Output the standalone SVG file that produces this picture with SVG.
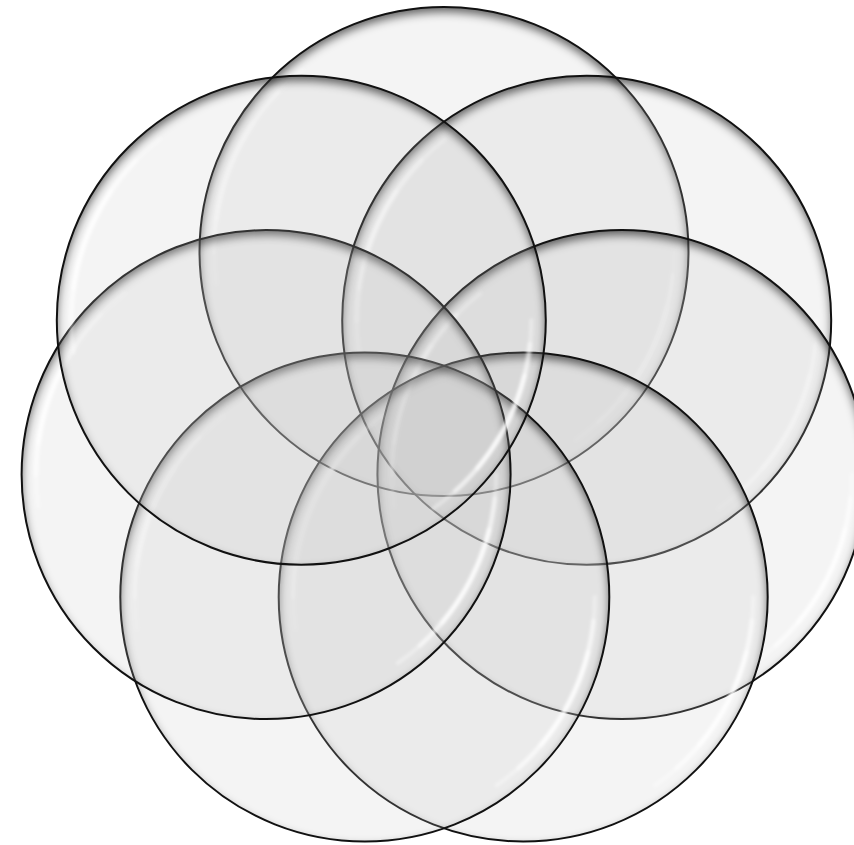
<svg xmlns="http://www.w3.org/2000/svg" xmlns:xlink="http://www.w3.org/1999/xlink" width="854" height="845" viewBox="0 0 854 845">
  <style>
    .body { fill: #c4c4c4; fill-opacity: 0.19; }
    .rim { fill: none; stroke: #111111; stroke-width: 2; }
    .hl { fill: none; stroke: #ffffff; stroke-linecap: round; }
  </style>
  <defs>
    <filter id="inset" x="-8%" y="-8%" width="116%" height="116%">
      <feFlood flood-color="#000" flood-opacity="0.6" result="f"/>
      <feComposite in="f" in2="SourceAlpha" operator="out" result="o"/>
      <feGaussianBlur in="o" stdDeviation="5" result="b"/>
      <feOffset in="b" dx="0" dy="5" result="s"/>
      <feComposite in="s" in2="SourceAlpha" operator="in"/>
    </filter>
    <filter id="soft" x="-20%" y="-20%" width="140%" height="140%">
      <feGaussianBlur stdDeviation="1.6"/>
    </filter>
    <g id="bubble">
      <circle r="244.5" class="body"/>
      <circle r="244.5" fill="#000" filter="url(#inset)"/>
      <g filter="url(#soft)">
        <path class="hl" stroke-width="4" stroke-opacity="0.35" d="M -227.8,32 A 230 230 0 0 1 -141.6,-181.2"/>
        <path class="hl" stroke-width="5" stroke-opacity="0.45" d="M -230,0 A 230 230 0 0 1 -165.4,-159.8"/>
        <path class="hl" stroke-width="5" stroke-opacity="0.6" d="M -227.8,-32 A 230 230 0 0 1 -190.7,-128.6"/>
        <path class="hl" stroke-width="4" stroke-opacity="0.35" d="M 230,0 A 230 230 0 0 1 131.9,188.4"/>
        <path class="hl" stroke-width="5" stroke-opacity="0.45" d="M 228.7,24 A 230 230 0 0 1 153.9,170.9"/>
        <path class="hl" stroke-width="5" stroke-opacity="0.6" d="M 223.2,55.6 A 230 230 0 0 1 176.2,147.8"/>
      </g>
      <circle r="244.5" class="rim"/>
    </g>
  </defs>
  <rect width="854" height="845" fill="#ffffff"/>
  <g id="circles">
    <g id="circle-top" transform="translate(444,251.5)"><use href="#bubble" xlink:href="#bubble"/></g>
    <g id="circle-upper-right" transform="translate(586.7,320.2)"><use href="#bubble" xlink:href="#bubble"/></g>
    <g id="circle-right" transform="translate(621.9,474.6)"><use href="#bubble" xlink:href="#bubble"/></g>
    <g id="circle-lower-right" transform="translate(523.2,597)"><use href="#bubble" xlink:href="#bubble"/></g>
    <g id="circle-lower-left" transform="translate(364.8,597)"><use href="#bubble" xlink:href="#bubble"/></g>
    <g id="circle-left" transform="translate(266.1,474.6)"><use href="#bubble" xlink:href="#bubble"/></g>
    <g id="circle-upper-left" transform="translate(301.3,320.2)"><use href="#bubble" xlink:href="#bubble"/></g>
  </g>
</svg>
